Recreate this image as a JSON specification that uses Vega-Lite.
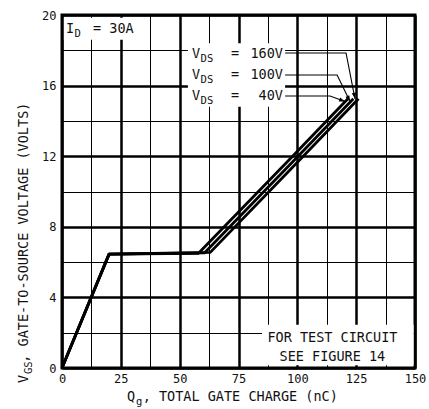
{
  "$schema": "https://vega.github.io/schema/vega-lite/v6.json",
  "width": 353,
  "height": 353,
  "autosize": "none",
  "padding": {"left": 62, "top": 15, "right": 14, "bottom": 41},
  "background": "white",
  "config": {
    "view": {"stroke": "#000", "strokeWidth": 3},
    "axis": {"domain": false, "ticks": false, "grid": true, "gridColor": "#000", "labelFont": "DejaVu Sans Mono", "labelFontSize": 12, "labelColor": "#111", "title": null, "labelOverlap": false},
    "text": {"font": "DejaVu Sans Mono", "color": "#111"}
  },
  "encoding": {
    "x": {"field": "q", "type": "quantitative", "scale": {"domain": [0, 150], "nice": false},
      "axis": {"values": [0, 12.5, 25, 37.5, 50, 62.5, 75, 87.5, 100, 112.5, 125, 137.5, 150],
        "labelExpr": "datum.value % 25 === 0 ? datum.label : ''",
        "gridWidth": {"condition": {"test": "datum.value % 25 === 0", "value": 2.5}, "value": 1},
        "labelPadding": 5, "labelFlush": false}},
    "y": {"field": "v", "type": "quantitative", "scale": {"domain": [0, 20], "nice": false},
      "axis": {"values": [0, 2, 4, 6, 8, 10, 12, 14, 16, 18, 20],
        "labelExpr": "datum.value % 4 === 0 ? datum.label : ''",
        "gridWidth": {"condition": {"test": "datum.value % 4 === 0", "value": 2.5}, "value": 1},
        "labelPadding": 6}}
  },
  "layer": [
    {
      "data": {"values": [
        {"q": 0.8, "q2": 32, "v": 18.6, "v2": 19.85},
        {"q": 53.5, "q2": 94.8, "v": 14.8, "v2": 18.4},
        {"q": 85, "q2": 149.4, "v": 0.15, "v2": 2.45}
      ]},
      "mark": {"type": "rect", "fill": "white"},
      "encoding": {"x2": {"field": "q2"}, "y2": {"field": "v2"}}
    },
    {
      "data": {"values": [
        {"vds": "40V", "q": 0, "v": 0}, {"vds": "40V", "q": 20, "v": 6.45}, {"vds": "40V", "q": 58, "v": 6.5}, {"vds": "40V", "q": 98, "v": 12}, {"vds": "40V", "q": 121.5, "v": 15.25},
        {"vds": "100V", "q": 0, "v": 0}, {"vds": "100V", "q": 20, "v": 6.45}, {"vds": "100V", "q": 60.5, "v": 6.52}, {"vds": "100V", "q": 100.3, "v": 12}, {"vds": "100V", "q": 123.8, "v": 15.25},
        {"vds": "160V", "q": 0, "v": 0}, {"vds": "160V", "q": 20, "v": 6.45}, {"vds": "160V", "q": 63, "v": 6.55}, {"vds": "160V", "q": 102.5, "v": 12}, {"vds": "160V", "q": 126, "v": 15.25}
      ]},
      "mark": {"type": "line", "color": "#000", "strokeWidth": 2.8, "strokeJoin": "round"},
      "encoding": {"detail": {"field": "vds"}}
    },
    {
      "data": {"name": "leaders", "values": [
        {"vds": "160V", "q": 94.8, "v": 17.85}, {"vds": "160V", "q": 120.7, "v": 17.85}, {"vds": "160V", "q": 124.5, "v": 15.25},
        {"vds": "100V", "q": 94.8, "v": 16.6}, {"vds": "100V", "q": 116.9, "v": 16.6}, {"vds": "100V", "q": 122.4, "v": 15.1},
        {"vds": "40V", "q": 94.8, "v": 15.41}, {"vds": "40V", "q": 113.9, "v": 15.41}, {"vds": "40V", "q": 120.3, "v": 15.1}
      ]},
      "mark": {"type": "line", "color": "#000", "strokeWidth": 1.1},
      "encoding": {"detail": {"field": "vds"}}
    },
    {
      "data": {"values": [{"vds": "160V", "q": 124.5, "v": 15.25}]},
      "mark": {"type": "point", "shape": "M0,0L-0.35,-1L0.35,-1Z", "filled": true, "color": "#000", "opacity": 1, "size": 144, "angle": -11}
    },
    {
      "data": {"values": [{"vds": "100V", "q": 122.4, "v": 15.1}]},
      "mark": {"type": "point", "shape": "M0,0L-0.35,-1L0.35,-1Z", "filled": true, "color": "#000", "opacity": 1, "size": 144, "angle": -26}
    },
    {
      "data": {"values": [{"vds": "40V", "q": 120.3, "v": 15.1}]},
      "mark": {"type": "point", "shape": "M0,0L-0.35,-1L0.35,-1Z", "filled": true, "color": "#000", "opacity": 1, "size": 144, "angle": -70}
    },
    {
      "data": {"values": [
        {"q": 1.7, "v": 18.98, "t": "I"},
        {"q": 13.2, "v": 18.98, "t": "= 30A"},
        {"q": 55.25, "v": 17.56, "t": "V"},
        {"q": 71.8, "v": 17.56, "t": "="},
        {"q": 55.25, "v": 16.37, "t": "V"},
        {"q": 71.8, "v": 16.37, "t": "="},
        {"q": 55.25, "v": 15.18, "t": "V"},
        {"q": 71.8, "v": 15.18, "t": "="},
        {"q": 27.6, "v": -1.87, "t": "Q"},
        {"q": 34.3, "v": -1.87, "t": ",  TOTAL GATE CHARGE (nC)"}
      ]},
      "mark": {"type": "text", "align": "left", "baseline": "alphabetic", "fontSize": 13.5},
      "encoding": {"text": {"field": "t"}}
    },
    {
      "data": {"values": [
        {"q": 5.3, "v": 18.98, "t": "D"},
        {"q": 58.9, "v": 17.56, "t": "DS"},
        {"q": 58.9, "v": 16.37, "t": "DS"},
        {"q": 58.9, "v": 15.18, "t": "DS"},
        {"q": 31.45, "v": -1.87, "t": "g"}
      ]},
      "mark": {"type": "text", "align": "left", "baseline": "alphabetic", "fontSize": 10.5, "dy": 4},
      "encoding": {"text": {"field": "t"}}
    },
    {
      "data": {"values": [
        {"q": 93.9, "v": 17.56, "t": "160V"},
        {"q": 93.9, "v": 16.37, "t": "100V"},
        {"q": 93.9, "v": 15.18, "t": "40V"}
      ]},
      "mark": {"type": "text", "align": "right", "baseline": "alphabetic", "fontSize": 13.5},
      "encoding": {"text": {"field": "t"}}
    },
    {
      "data": {"values": [
        {"q": 114.9, "v": 1.47, "t": "FOR TEST CIRCUIT"},
        {"q": 114.9, "v": 0.4, "t": "SEE FIGURE 14"}
      ]},
      "mark": {"type": "text", "align": "center", "baseline": "alphabetic", "fontSize": 13.5},
      "encoding": {"text": {"field": "t"}}
    },
    {
      "data": {"values": [
        {"q": -14.45, "v": -0.85, "t": "V"},
        {"q": -14.45, "v": 0.3, "t": ",  GATE-TO-SOURCE VOLTAGE  (VOLTS)"}
      ]},
      "mark": {"type": "text", "align": "left", "baseline": "alphabetic", "fontSize": 13.5, "angle": 270},
      "encoding": {"text": {"field": "t"}}
    },
    {
      "data": {"values": [
        {"q": -14.45, "v": -0.34, "t": "GS"}
      ]},
      "mark": {"type": "text", "align": "left", "baseline": "alphabetic", "fontSize": 10.5, "angle": 270, "dy": 4},
      "encoding": {"text": {"field": "t"}}
    }
  ]
}
